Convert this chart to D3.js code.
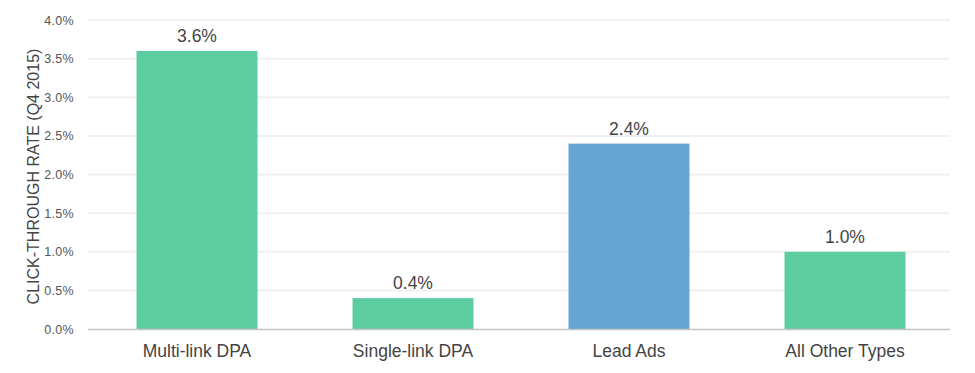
<!DOCTYPE html>
<html>
<head>
<meta charset="utf-8">
<script src="https://cdn.jsdelivr.net/npm/d3@7"></script>
<style>
  body { margin: 0; background: #fff; }
  svg { font-family: "Liberation Sans", Arial, sans-serif; }
</style>
</head>
<body>
<svg width="975" height="373"></svg>
<script>
const categories = ["Multi-link DPA", "Single-link DPA", "Lead Ads", "All Other Types"];
const ctr = [3.6, 0.4, 2.4, 1.0];
const barColors = ["#5ccda1", "#5ccda1", "#64a5d1", "#5ccda1"];
const yTicks = [0, 0.5, 1, 1.5, 2, 2.5, 3, 3.5, 4];

const svg = d3.select("svg");
const plotLeft = 89, plotRight = 953, plotTop = 20, plotBottom = 329;

const x = d3.scaleBand()
    .domain(categories)
    .range([plotLeft, plotRight])
    .paddingInner(0.44)
    .paddingOuter(0.22);

const y = d3.scaleLinear()
    .domain([0, 4])
    .range([plotBottom, plotTop]);

// grid lines
svg.append("g")
    .selectAll("line")
    .data(yTicks.slice(1))
    .join("line")
    .attr("x1", plotLeft - 1)
    .attr("x2", plotRight - 3)
    .attr("y1", d => y(d))
    .attr("y2", d => y(d))
    .attr("stroke", "#f0f0f0")
    .attr("stroke-width", 2);

// y axis labels
const yAxis = svg.append("g")
    .attr("transform", `translate(${plotLeft - 12},0)`)
    .call(d3.axisLeft(y).tickValues(yTicks).tickSize(0).tickFormat(d => d.toFixed(1) + "%"));
yAxis.select(".domain").remove();
yAxis.selectAll("text")
    .attr("font-size", 12.5)
    .attr("fill", "#555")
    .attr("letter-spacing", 0.3)
    .attr("font-family", "Liberation Sans, Arial, sans-serif");

// y axis title
svg.append("text")
    .attr("transform", `translate(39,${(plotTop + plotBottom) / 2 + 2}) rotate(-90)`)
    .attr("text-anchor", "middle")
    .attr("font-size", 16)
    .attr("fill", "#444")
    .text("CLICK-THROUGH RATE (Q4 2015)");

// bars
svg.append("g")
    .selectAll("rect")
    .data(ctr)
    .join("rect")
    .attr("x", (d, i) => x(categories[i]))
    .attr("width", x.bandwidth())
    .attr("y", d => y(d))
    .attr("height", d => y(0) - y(d))
    .attr("fill", (d, i) => barColors[i]);

// value labels
svg.append("g")
    .selectAll("text")
    .data(ctr)
    .join("text")
    .attr("x", (d, i) => x(categories[i]) + x.bandwidth() / 2)
    .attr("y", d => y(d) - 9)
    .attr("text-anchor", "middle")
    .attr("font-size", 17.5)
    .attr("fill", "#444")
    .text(d => d.toFixed(1) + "%");

// baseline
svg.append("line")
    .attr("x1", plotLeft - 1)
    .attr("x2", plotRight - 3)
    .attr("y1", plotBottom + 0.5)
    .attr("y2", plotBottom + 0.5)
    .attr("stroke", "#c4c4c4")
    .attr("stroke-width", 1.5);

// x axis labels
const xAxis = svg.append("g")
    .attr("transform", `translate(0,${plotBottom})`)
    .call(d3.axisBottom(x).tickSize(0).tickPadding(16));
xAxis.select(".domain").remove();
xAxis.selectAll("text")
    .attr("font-size", 17.5)
    .attr("fill", "#444")
    .attr("font-family", "Liberation Sans, Arial, sans-serif");
</script>
</body>
</html>
